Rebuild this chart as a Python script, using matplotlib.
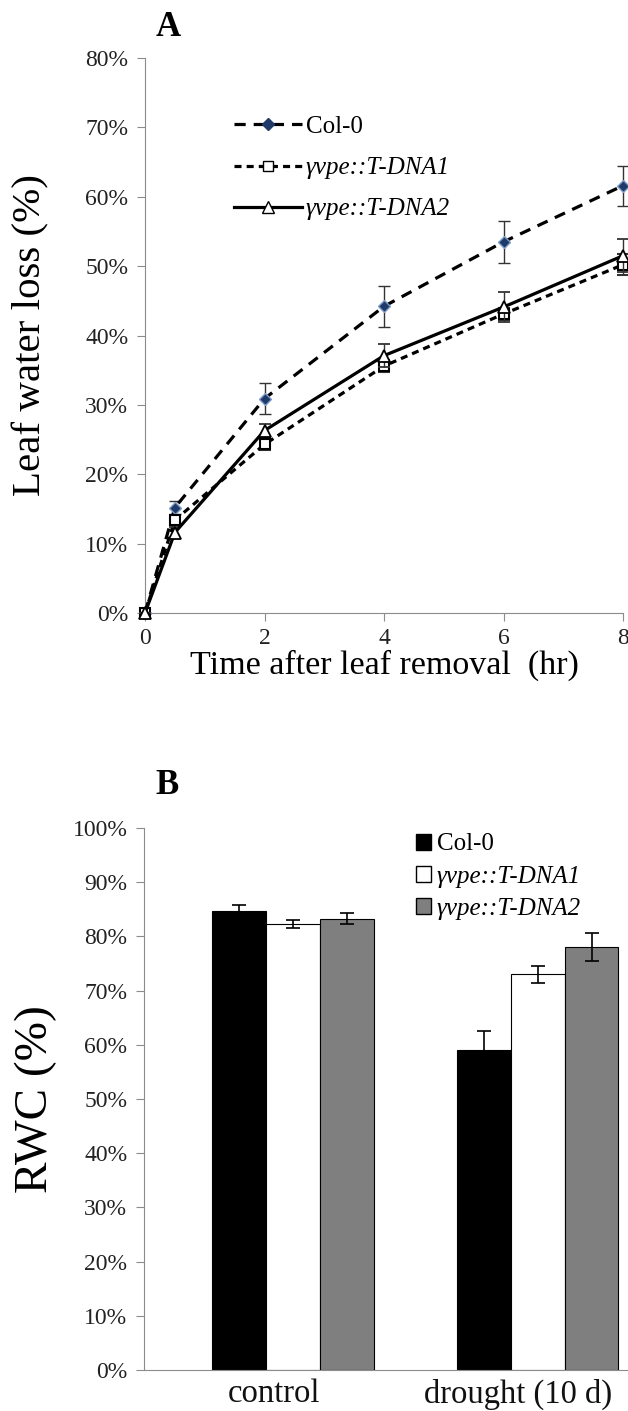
import matplotlib
matplotlib.use("Agg")
import matplotlib.pyplot as plt
from matplotlib.lines import Line2D
from matplotlib.patches import Patch
from matplotlib.ticker import FuncFormatter

plt.rcParams['font.family'] = ['Liberation Serif', 'DejaVu Serif']

# --- panel A data: leaf water loss (%) ---
hours = [0, 0.5, 2, 4, 6, 8]
col0 = [0, 15.2, 30.9, 44.2, 53.5, 61.6]
col0_err = [0, 1.0, 2.2, 3.0, 3.0, 2.9]
dna1 = [0, 13.4, 24.3, 35.6, 43.1, 50.2]
dna1_err = [0, 0.6, 0.8, 0.8, 0.8, 1.5]
dna2 = [0, 11.6, 26.3, 37.1, 44.1, 51.5]
dna2_err = [0, 0.8, 1.0, 1.7, 2.2, 2.4]

# --- panel B data: relative water content (%) ---
conditions = ['control', 'drought (10 d)']
rwc_col0 = [84.7, 59.1]
rwc_col0_err = [1.1, 3.4]
rwc_dna1 = [82.3, 73.0]
rwc_dna1_err = [0.7, 1.6]
rwc_dna2 = [83.3, 78.0]
rwc_dna2_err = [1.0, 2.6]

names = ['Col-0', 'γvpe::T-DNA1', 'γvpe::T-DNA2']

fig = plt.figure(figsize=(6.28, 14.11), dpi=100)
spine_col = '#8c8c8c'
pct = FuncFormatter(lambda v, p: '%d%%' % round(v))
H = 1411

# ---------------- A ----------------
ax = fig.add_axes([145 / 628, 1 - 613 / H, 478 / 628, 555 / H])
ax.errorbar(hours, col0, yerr=col0_err, color='black', ls=(0, (3.5, 2.5)), lw=2.3,
            marker='D', ms=6.5, mfc='#1f3a68', mec='#7f9cc8', ecolor='#333333',
            elinewidth=1, capsize=4, clip_on=False, zorder=3)
ax.errorbar(hours, dna1, yerr=dna1_err, color='black', ls=(0, (2.2, 1.6)), lw=2.3,
            marker='s', ms=7.5, mfc='white', mec='black', mew=1.5, ecolor='#333333',
            elinewidth=1, capsize=4, clip_on=False, zorder=4)
ax.errorbar(hours, dna2, yerr=dna2_err, color='black', ls='-', lw=2.3,
            marker='^', ms=8.5, mfc='white', mec='black', mew=1.3, ecolor='#333333',
            elinewidth=1, capsize=4, clip_on=False, zorder=5)
ax.set_xlim(0, 8)
ax.set_ylim(0, 80)
ax.set_xticks([0, 2, 4, 6, 8])
ax.set_yticks(range(0, 81, 10))
ax.yaxis.set_major_formatter(pct)
for s in ['top', 'right']:
    ax.spines[s].set_visible(False)
for s in ['left', 'bottom']:
    ax.spines[s].set_color(spine_col)
ax.tick_params(colors=spine_col, labelcolor='#222222', labelsize=17, length=6, direction='out')
ax.tick_params(axis='y', pad=6)
ax.tick_params(axis='x', pad=5)
ax.set_xlabel('Time after leaf removal  (hr)', fontsize=24.5, labelpad=0)
ax.set_ylabel('Leaf water loss (%)', fontsize=29.5, labelpad=26)
fig.text(168 / 628, 1 - 27 / H, 'A', fontsize=25, fontweight='bold', ha='center', va='center')

hA = [Line2D([], [], color='black', ls=(0, (3.5, 2.5)), lw=2.3, marker='D', ms=6.5,
             mfc='#1f3a68', mec='#1f3a68'),
      Line2D([], [], color='black', ls=(0, (2.2, 1.6)), lw=2.3, marker='s', ms=7.5,
             mfc='white', mec='black'),
      Line2D([], [], color='black', ls='-', lw=2.3, marker='^', ms=8.5,
             mfc='white', mec='black')]
legA = ax.legend(hA, names, loc='upper left', bbox_to_anchor=(222 / 628, 1 - 103 / H),
                 bbox_transform=fig.transFigure, frameon=False, fontsize=18,
                 handlelength=2.7, handletextpad=0.15, labelspacing=0.75, borderpad=0)
for i, t in enumerate(legA.get_texts()):
    if i > 0:
        t.set_fontstyle('italic')

# ---------------- B ----------------
bx = fig.add_axes([144 / 628, 1 - 1370 / H, 483 / 628, 542 / H])
w = 0.22
xs = range(len(conditions))
ekw = dict(elinewidth=1.2, capthick=1.2, ecolor='black')
bx.bar([x - w for x in xs], rwc_col0, w, yerr=rwc_col0_err, color='black',
       edgecolor='black', lw=0.8, capsize=5, error_kw=ekw, label=names[0])
bx.bar(list(xs), rwc_dna1, w, yerr=rwc_dna1_err, color='white',
       edgecolor='black', lw=0.8, capsize=5, error_kw=ekw, label=names[1])
bx.bar([x + w for x in xs], rwc_dna2, w, yerr=rwc_dna2_err, color='#7f7f7f',
       edgecolor='black', lw=0.8, capsize=5, error_kw=ekw, label=names[2])
bx.set_xlim(-0.608, 1.365)
bx.set_ylim(0, 100)
bx.set_yticks(range(0, 101, 10))
bx.yaxis.set_major_formatter(pct)
bx.set_xticks([x - 0.078 for x in xs])
bx.set_xticklabels(conditions, fontsize=23.5)
for s in ['top', 'right']:
    bx.spines[s].set_visible(False)
for s in ['left', 'bottom']:
    bx.spines[s].set_color(spine_col)
bx.tick_params(axis='y', colors=spine_col, labelcolor='#222222', labelsize=17, length=6, pad=6)
bx.tick_params(axis='x', length=0, labelcolor='#111111', pad=6)
bx.set_ylabel('RWC (%)', fontsize=34, labelpad=11)
fig.text(167 / 628, 1 - 786 / H, 'B', fontsize=25, fontweight='bold', ha='center', va='center')

hB = [Patch(facecolor='black', edgecolor='black'),
      Patch(facecolor='white', edgecolor='black'),
      Patch(facecolor='#7f7f7f', edgecolor='black')]
legB = bx.legend(hB, names, loc='upper left', bbox_to_anchor=(403 / 628, 1 - 821 / H),
                 bbox_transform=fig.transFigure, frameon=False, fontsize=18,
                 handlelength=0.6, handleheight=0.6, handletextpad=0.25,
                 labelspacing=0.4, borderpad=0)
for i, t in enumerate(legB.get_texts()):
    if i > 0:
        t.set_fontstyle('italic')

fig.savefig('out.png', dpi=100)
